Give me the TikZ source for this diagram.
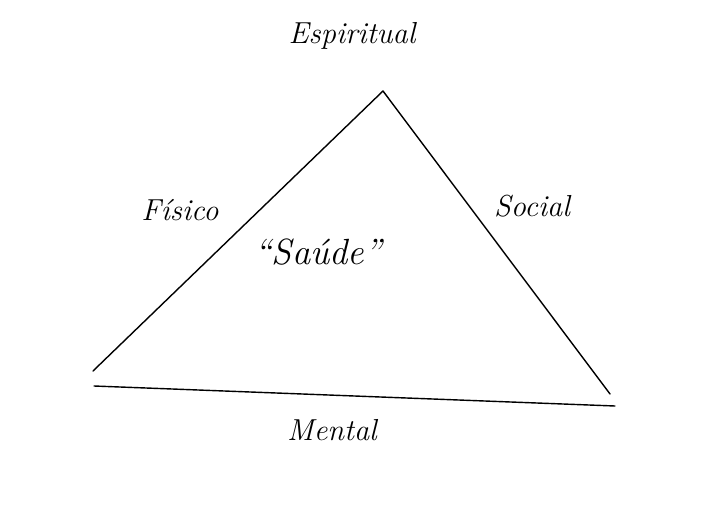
\documentclass[tikz,border=0pt]{standalone}
\usetikzlibrary{positioning}

\tikzset{
  hand/.style={font=\LARGE\itshape, black},
  side/.style={thick, line cap=round}
}

\begin{document}
\begin{tikzpicture}[x=0.02cm, y=-0.02cm]
        \useasboundingbox (0,0) rectangle (707,507);
        \coordinate (top) at (383,91);
        \coordinate (leftend) at (93,371);
        \coordinate (rightend) at (610,394);
        \coordinate (baseleft) at (94,386);
        \coordinate (baseright) at (615,406);
        \draw [side] (leftend) -- (top);
        \draw [side] (top) -- (rightend);
        \draw [side] (baseleft) -- (baseright);
        \node [hand] (espiritual) at (352,36) {Espiritual};
        \node [hand] (fisico) at (180,210) {Físico};
        \node [hand] (social) at (532,206) {Social};
        \node [hand, font=\huge\itshape] (saude) at (318,252) {``Saúde''};
        \node [hand] (mental) at (332,430) {Mental};
      \end{tikzpicture}
\end{document}
